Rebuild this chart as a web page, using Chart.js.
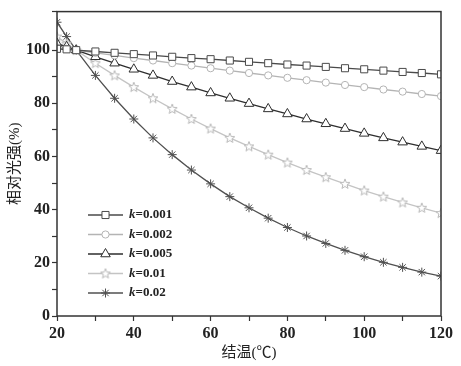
<!DOCTYPE html>
<html>
<head>
<meta charset="utf-8">
<script src="https://cdn.jsdelivr.net/npm/chart.js@4/dist/chart.umd.min.js"></script>
<style>
  html, body { margin: 0; padding: 0; background: #fff; }
  #wrap { width: 461px; height: 366px; }
</style>
</head>
<body>
<div id="wrap"><canvas id="light"></canvas></div>
<script>
// junction temperature (C) and relative intensity (%) per k
var temps = [20, 22.5, 25, 30, 35, 40, 45, 50, 55, 60, 65, 70, 75, 80, 85, 90, 95, 100, 105, 110, 115, 120];
var k001 = [100.5, 100.3, 100, 99.5, 99.0, 98.5, 98.0, 97.5, 97.0, 96.6, 96.1, 95.6, 95.1, 94.6, 94.2, 93.7, 93.2, 92.8, 92.3, 91.8, 91.4, 90.9];
var k002 = [101.0, 100.5, 100, 99.0, 98.0, 97.0, 96.1, 95.1, 94.2, 93.2, 92.3, 91.4, 90.5, 89.6, 88.7, 87.8, 86.9, 86.1, 85.2, 84.4, 83.5, 82.7];
var k005 = [102.5, 101.3, 100, 97.5, 95.1, 92.8, 90.5, 88.2, 86.1, 83.9, 81.9, 79.9, 77.9, 76.0, 74.1, 72.3, 70.5, 68.7, 67.0, 65.4, 63.8, 62.2];
var k01  = [105.1, 102.5, 100, 95.1, 90.5, 86.1, 81.9, 77.9, 74.1, 70.5, 67.0, 63.8, 60.7, 57.7, 54.9, 52.2, 49.7, 47.2, 44.9, 42.7, 40.7, 38.7];
var k02  = [110.5, 105.1, 100, 90.5, 81.9, 74.1, 67.0, 60.7, 54.9, 49.7, 44.9, 40.7, 36.8, 33.3, 30.1, 27.3, 24.7, 22.3, 20.2, 18.3, 16.5, 15.0];
var kLabels = ["0.001", "0.002", "0.005", "0.01", "0.02"];

var serif = "'Liberation Serif', 'Noto Sans CJK SC', serif";

// hollow five point star marker
function starMarker(color) {
  var c = document.createElement('canvas');
  c.width = 12; c.height = 12;
  var g = c.getContext('2d');
  g.beginPath();
  for (var i = 0; i < 10; i++) {
    var r = i % 2 ? 2.2 : 5.2;
    var a = -Math.PI / 2 + i * Math.PI / 5;
    g.lineTo(6 + r * Math.cos(a), 6.3 + r * Math.sin(a));
  }
  g.closePath();
  g.fillStyle = '#fff';
  g.fill();
  g.strokeStyle = color;
  g.lineWidth = 1;
  g.stroke();
  return c;
}

function pts(vals) {
  return vals.map(function (v, i) { return { x: temps[i], y: v }; });
}

function series(i, vals, color, style, radius) {
  return {
    label: 'k=' + kLabels[i],
    data: pts(vals),
    borderColor: color,
    borderWidth: 1.3,
    pointStyle: style,
    pointRadius: radius,
    pointBorderColor: color,
    pointBackgroundColor: '#fff',
    pointBorderWidth: 1,
    tension: 0
  };
}

var frame = {
  id: 'frame',
  afterDatasetsDraw: function (chart) {
    var a = chart.chartArea, ctx = chart.ctx;
    ctx.save();
    ctx.strokeStyle = '#333';
    ctx.lineWidth = 1.5;
    ctx.strokeRect(a.left, a.top, a.right - a.left, a.bottom - a.top);
    ctx.restore();
  }
};

var legendBox = {
  id: 'legendBox',
  afterDraw: function (chart) {
    var ctx = chart.ctx;
    var x0 = 88, y0 = 215, step = 19.5;
    chart.data.datasets.forEach(function (ds, i) {
      var y = y0 + i * step;
      ctx.save();
      ctx.strokeStyle = ds.borderColor;
      ctx.lineWidth = ds.borderWidth;
      ctx.beginPath();
      ctx.moveTo(x0, y); ctx.lineTo(x0 + 35, y);
      ctx.stroke();
      ctx.fillStyle = '#fff';
      ctx.lineWidth = 1;
      Chart.helpers.drawPoint(ctx, {
        pointStyle: ds.pointStyle, radius: ds.pointRadius, rotation: 0, borderWidth: 1
      }, x0 + 17.5, y);
      ctx.fillStyle = '#222';
      ctx.textBaseline = 'middle';
      ctx.font = "italic bold 13px 'Liberation Serif'";
      ctx.fillText('k', x0 + 41, y);
      var w = ctx.measureText('k').width;
      ctx.font = "bold 13px 'Liberation Serif'";
      ctx.fillText('=' + kLabels[i], x0 + 41 + w, y);
      ctx.restore();
    });
  }
};

var ctx = document.getElementById('light').getContext('2d');
var light = new Chart(ctx, {
  type: 'line',
  data: {
    datasets: [
      series(0, k001, '#4a4a4a', 'rect', 5),
      series(1, k002, '#b4b4b4', 'circle', 3.6),
      series(2, k005, '#2e2e2e', 'triangle', 5.5),
      series(3, k01, '#c4c4c4', starMarker('#b8b8b8'), 5),
      series(4, k02, '#505050', 'star', 4.5)
    ]
  },
  options: {
    responsive: true,
    maintainAspectRatio: false,
    animation: false,
    layout: { padding: { top: 7, right: 20, left: 0, bottom: 0 } },
    plugins: {
      legend: { display: false },
      tooltip: { enabled: false }
    },
    scales: {
      x: {
        type: 'linear',
        min: 20,
        max: 120,
        afterFit: function (s) { s.height = 50; },
        border: { display: false },
        grid: { drawOnChartArea: false, drawTicks: true, tickLength: 5, color: '#333', tickWidth: 1.2 },
        ticks: {
          stepSize: 10,
          maxRotation: 0,
          padding: 3,
          color: '#222',
          font: { family: serif, size: 16, weight: 'bold' },
          callback: function (v) { return v % 20 === 0 ? v : ''; }
        },
        title: {
          display: true,
          text: '结温(℃)',
          color: '#222',
          font: { family: serif, size: 15 },
          padding: { top: 0, bottom: 4 }
        }
      },
      y: {
        min: 0,
        max: 114.5,
        afterFit: function (s) { s.width = 57; },
        border: { display: false },
        grid: { drawOnChartArea: false, drawTicks: true, tickLength: 5, color: '#333', tickWidth: 1.2 },
        ticks: {
          stepSize: 10,
          padding: 2,
          color: '#222',
          font: { family: serif, size: 16, weight: 'bold' },
          callback: function (v) { return v % 20 === 0 ? v : ''; }
        },
        title: {
          display: true,
          text: '相对光强(%)',
          color: '#222',
          font: { family: serif, size: 15 },
          padding: { top: 6, bottom: 0 }
        }
      }
    }
  },
  plugins: [frame, legendBox]
});
</script>
</body>
</html>
